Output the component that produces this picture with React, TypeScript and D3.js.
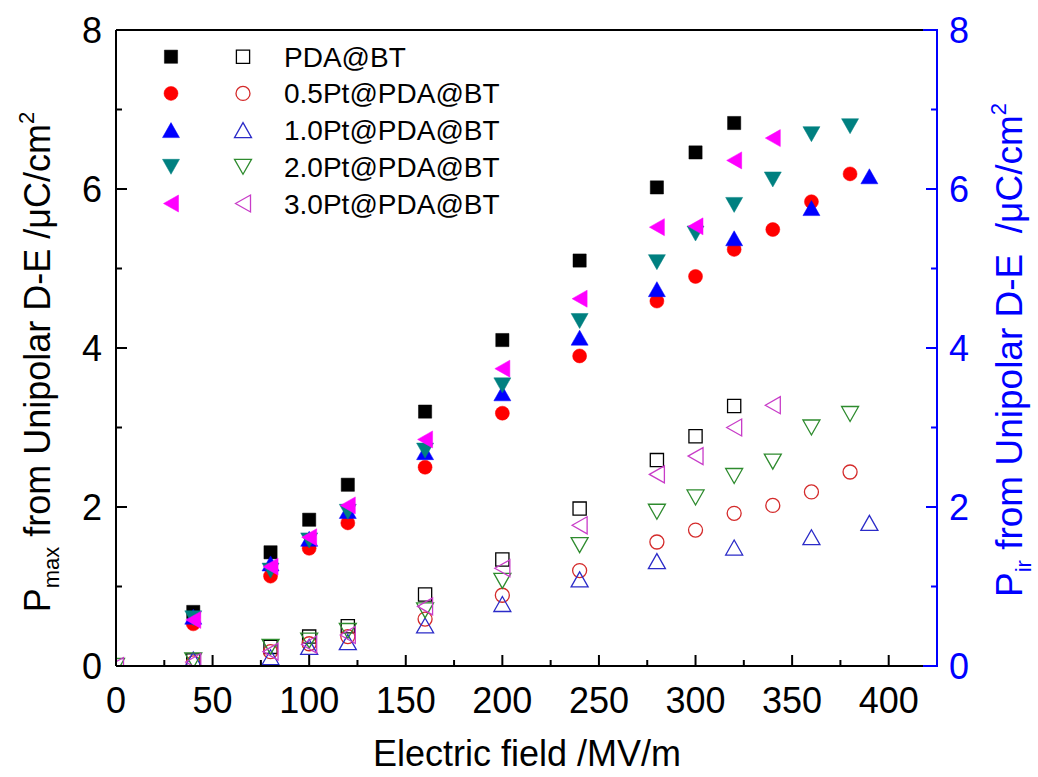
import * as d3 from 'd3'

// electric field (MV/m) for each sample
const fieldPDA = [40, 80, 100, 120, 160, 200, 240, 280, 300, 320]
const field05 = [40, 80, 100, 120, 160, 200, 240, 280, 300, 320, 340, 360, 380]
const field10 = [40, 80, 100, 120, 160, 200, 240, 280, 320, 360, 390]
const field20 = [40, 80, 100, 120, 160, 200, 240, 280, 300, 320, 340, 360, 380]
const field30 = [40, 80, 100, 120, 160, 200, 240, 280, 300, 320, 340]
const fieldPir20 = [0, 40, 80, 100, 120, 160, 200, 240, 280, 300, 320, 340, 360, 380]
const fieldPir30 = [0, 40, 80, 100, 120, 160, 200, 240, 280, 300, 320, 340]

// P_max (filled symbols, left axis)
const pmaxPDA = [0.68, 1.43, 1.84, 2.28, 3.2, 4.1, 5.1, 6.02, 6.46, 6.83]
const pmax05 = [0.53, 1.13, 1.48, 1.8, 2.5, 3.18, 3.9, 4.59, 4.9, 5.24, 5.49, 5.84, 6.19]
const pmax10 = [0.62, 1.29, 1.6, 1.95, 2.69, 3.43, 4.13, 4.74, 5.38, 5.76, 6.16]
const pmax20 = [0.6, 1.2, 1.58, 1.94, 2.71, 3.53, 4.34, 5.08, 5.44, 5.8, 6.12, 6.69, 6.79]
const pmax30 = [0.58, 1.25, 1.62, 2.02, 2.85, 3.74, 4.62, 5.52, 5.53, 6.36, 6.64]

// P_ir (open symbols, right axis)
const pirPDA = [0.07, 0.24, 0.37, 0.5, 0.9, 1.34, 1.98, 2.59, 2.89, 3.27]
const pir05 = [0.04, 0.18, 0.28, 0.37, 0.59, 0.89, 1.2, 1.56, 1.71, 1.92, 2.02, 2.19, 2.44]
const pir10 = [0.08, 0.11, 0.24, 0.3, 0.51, 0.78, 1.09, 1.32, 1.49, 1.62, 1.8]
const pir20 = [0, 0.07, 0.24, 0.32, 0.44, 0.7, 1.07, 1.52, 1.94, 2.12, 2.39, 2.57, 3.0, 3.17]
const pir30 = [0, 0.05, 0.18, 0.27, 0.39, 0.75, 1.23, 1.77, 2.41, 2.64, 3.0, 3.28]

const sampleLabels = ['PDA@BT', '0.5Pt@PDA@BT', '1.0Pt@PDA@BT', '2.0Pt@PDA@BT', '3.0Pt@PDA@BT']
const xTicks = [0, 50, 100, 150, 200, 250, 300, 350, 400]
const yTicks = [0, 2, 4, 6, 8]

const W = 1038
const H = 777
const FONT = '"Liberation Sans", Arial, sans-serif'

const x = d3.scaleLinear().domain([0, 425]).range([116, 937])
const y = d3.scaleLinear().domain([0, 8]).range([666, 30])

const shapes = ['square', 'circle', 'up', 'down', 'left']
const fillColors = ['#000000', '#ff0000', '#0000ff', '#008080', '#ff00ff']
const openColors = ['#000000', '#d42a2a', '#2b2bc8', '#2e8b2e', '#c83cc8']

const filled = [
  { xs: fieldPDA, ys: pmaxPDA },
  { xs: field05, ys: pmax05 },
  { xs: field10, ys: pmax10 },
  { xs: field20, ys: pmax20 },
  { xs: field30, ys: pmax30 },
]
const open = [
  { xs: fieldPDA, ys: pirPDA },
  { xs: field05, ys: pir05 },
  { xs: field10, ys: pir10 },
  { xs: fieldPir20, ys: pir20 },
  { xs: fieldPir30, ys: pir30 },
]

function markerPath(shape: string) {
  const s = 6.6
  const w = 8.5
  const h = 7.5
  switch (shape) {
    case 'square':
      return `M${-s},${-s}H${s}V${s}H${-s}Z`
    case 'circle':
      return 'M-7,0A7,7 0 1,0 7,0A7,7 0 1,0 -7,0Z'
    case 'up':
      return `M0,${-h}L${w},${h}L${-w},${h}Z`
    case 'down':
      return `M0,${h}L${w},${-h}L${-w},${-h}Z`
    default:
      return `M${-h},0L${h},${-w}L${h},${w}Z`
  }
}

function Marker({ shape, color, hollow, cx, cy }: any) {
  return (
    <path
      d={markerPath(shape)}
      transform={`translate(${cx},${cy})`}
      fill={hollow ? 'none' : color}
      stroke={color}
      strokeWidth={hollow ? 1.3 : 0.5}
    />
  )
}

export default function App() {
  const [x0, x1] = x.range()
  const [y0, y1] = y.range()
  const minorX = d3.range(25, 425, 50)
  const minorY = [1, 3, 5, 7]

  return (
    <svg width={W} height={H} style={{ position: 'absolute', left: 0, top: 0, background: '#fff' }} fontFamily={FONT}>
      <defs>
        <clipPath id="plot">
          <rect x={x0} y={y1} width={x1 - x0} height={y0 - y1} />
        </clipPath>
      </defs>

      <g clipPath="url(#plot)">
        {filled.map((s, i) =>
          s.xs.map((v, j) => (
            <Marker key={`f${i}-${j}`} shape={shapes[i]} color={fillColors[i]} cx={x(v)} cy={y(s.ys[j])} />
          ))
        )}
        {open.map((s, i) =>
          s.xs.map((v, j) => (
            <Marker key={`o${i}-${j}`} shape={shapes[i]} color={openColors[i]} hollow cx={x(v)} cy={y(s.ys[j])} />
          ))
        )}
      </g>

      {/* frame */}
      <line x1={x0} x2={923} y1={y1} y2={y1} stroke="#000" strokeWidth={2} />
      <line x1={x0} x2={923} y1={y0} y2={y0} stroke="#000" strokeWidth={2} />
      <line x1={x0} x2={x0} y1={y1} y2={y0} stroke="#000" strokeWidth={2} />
      <path d={`M923,${y1}H${x1}V${y0}H923`} fill="none" stroke="#0000ff" strokeWidth={2} />

      {/* bottom axis */}
      {xTicks.map((t) => (
        <g key={`xt${t}`}>
          <line x1={x(t)} x2={x(t)} y1={y0} y2={y0 - 11} stroke="#000" strokeWidth={2} />
          <text x={x(t)} y={713} textAnchor="middle" fontSize={36}>{t}</text>
        </g>
      ))}
      {minorX.map((t) => (
        <line key={`xm${t}`} x1={x(t)} x2={x(t)} y1={y0} y2={y0 - 6} stroke="#000" strokeWidth={2} />
      ))}

      {/* left axis */}
      {yTicks.map((t) => (
        <g key={`yl${t}`}>
          <line x1={x0} x2={x0 + 11} y1={y(t)} y2={y(t)} stroke="#000" strokeWidth={2} />
          <text x={102} y={y(t)} dy="0.36em" textAnchor="end" fontSize={36}>{t}</text>
        </g>
      ))}
      {minorY.map((t) => (
        <line key={`ylm${t}`} x1={x0} x2={x0 + 6} y1={y(t)} y2={y(t)} stroke="#000" strokeWidth={2} />
      ))}

      {/* right axis */}
      {yTicks.map((t) => (
        <g key={`yr${t}`}>
          <line x1={x1} x2={x1 - 11} y1={y(t)} y2={y(t)} stroke="#0000ff" strokeWidth={2} />
          <text x={949} y={y(t)} dy="0.36em" textAnchor="start" fontSize={36} fill="#0000ff">{t}</text>
        </g>
      ))}
      {minorY.map((t) => (
        <line key={`yrm${t}`} x1={x1} x2={x1 - 6} y1={y(t)} y2={y(t)} stroke="#0000ff" strokeWidth={2} />
      ))}

      {/* axis titles */}
      <text x={527} y={766} textAnchor="middle" fontSize={36}>Electric field /MV/m</text>
      <text transform="translate(50,362) rotate(-90)" textAnchor="middle" fontSize={36}>
        P<tspan fontSize={22} dy={9}>max</tspan>
        <tspan dy={-9}> from Unipolar D-E /μC/cm</tspan>
        <tspan fontSize={22} dy={-16}>2</tspan>
      </text>
      <text transform="translate(1022,350) rotate(-90)" textAnchor="middle" fontSize={37} fill="#0000ff" style={{ whiteSpace: 'pre' }}>
        P<tspan fontSize={22} dy={9}>ir</tspan>
        <tspan dy={-9}>{' from Unipolar D-E  /μC/cm'}</tspan>
        <tspan fontSize={22} dy={-16}>2</tspan>
      </text>

      {/* legend */}
      {sampleLabels.map((label, i) => {
        const ry = 56.7 + i * 36.7
        return (
          <g key={label}>
            <Marker shape={shapes[i]} color={fillColors[i]} cx={171} cy={ry} />
            <Marker shape={shapes[i]} color={openColors[i]} hollow cx={243} cy={ry} />
            <text x={284} y={ry} dy="0.36em" fontSize={28}>{label}</text>
          </g>
        )
      })}
    </svg>
  )
}
